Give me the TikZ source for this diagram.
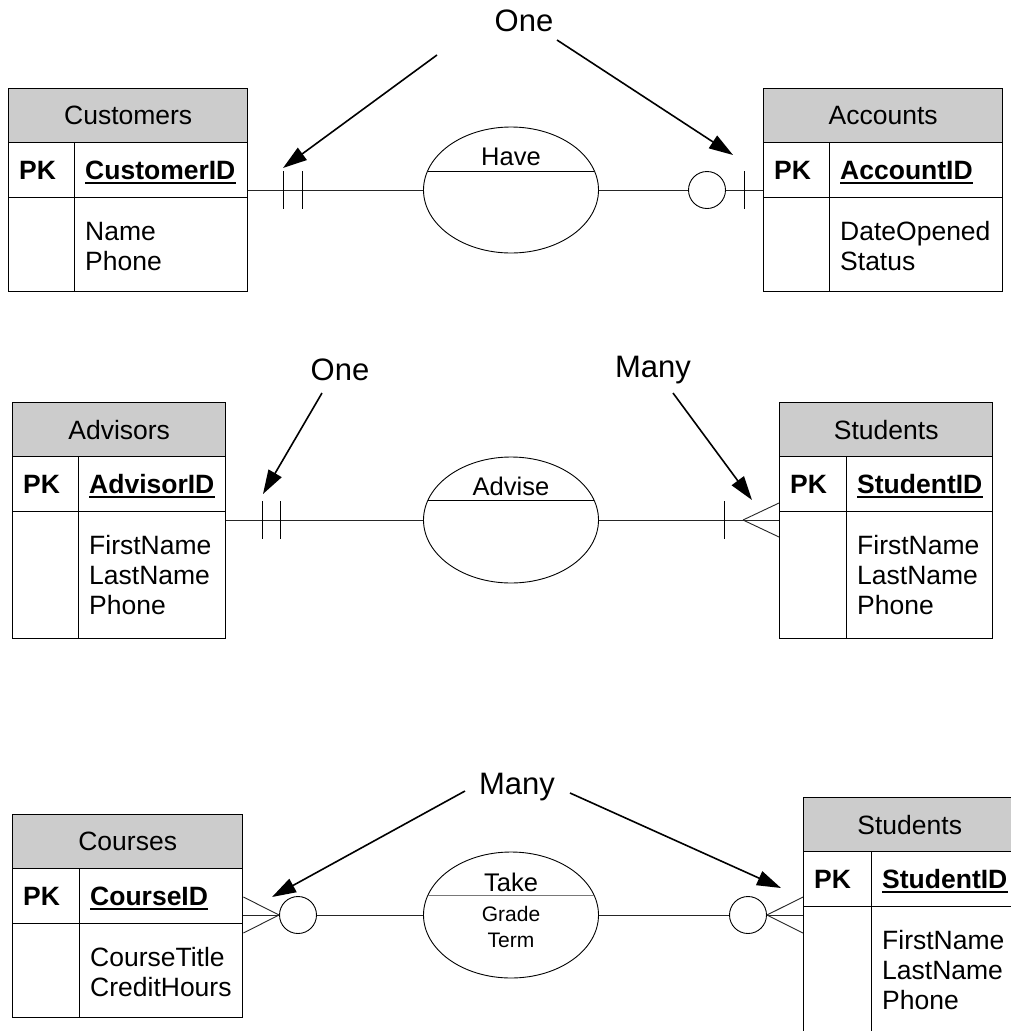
\documentclass[tikz,border=0pt]{standalone}
\usepackage{fontspec}
\setmainfont{Liberation Sans}
\usetikzlibrary{arrows.meta,shapes.geometric,calc}
\definecolor{hdrgray}{RGB}{204,204,204}
\definecolor{divgray}{RGB}{120,120,120}
\tikzset{
  cell/.style={draw=black, line width=1.4pt, inner sep=0pt, anchor=north west},
  tbltxt/.style={font=\fontsize{26.5}{30}\selectfont, inner sep=0pt},
  reltxt/.style={font=\fontsize{25.5}{30}\selectfont, inner sep=0pt},
  atttxt/.style={font=\fontsize{21}{26}\selectfont, inner sep=0pt},
  rel/.style={ellipse, draw, line width=0.9pt, minimum width=175pt, minimum height=126pt, inner sep=0pt},
  conn/.style={line width=0.9pt, draw=black!85},
  tickmark/.style={line width=0.9pt},
  optc/.style={circle, draw, line width=0.9pt, minimum size=37pt, inner sep=0pt},
  callout/.style={line width=1.6pt, -{Triangle[length=24pt,width=15pt]}},
  lbl/.style={font=\fontsize{31}{36}\selectfont, inner sep=0pt},
}
% #1 name #2 x1 #3 xd #4 x2 #5 top #6 bottom #7 title #8 key #9 attributes
\newcommand\ertable[9]{%
  \node[cell, fill=hdrgray, minimum width={#4pt-#2pt}, minimum height=54pt] (#1-h) at (#2,#5) {};
  \node[cell, minimum width={#3pt-#2pt}, minimum height=55pt] (#1-p) at (#2,#5+54) {};
  \node[cell, minimum width={#4pt-#3pt}, minimum height=55pt] (#1-k) at (#3,#5+54) {};
  \node[cell, minimum width={#3pt-#2pt}, minimum height={#6pt-#5pt-109pt}] (#1-a) at (#2,#5+109) {};
  \node[cell, minimum width={#4pt-#3pt}, minimum height={#6pt-#5pt-109pt}] (#1-b) at (#3,#5+109) {};
  \node[tbltxt] (#1-tt) at (#1-h.center) {#7};
  \path (#1-p.west) ++(11,9) node[tbltxt, anchor=base west] (#1-pk) {\bfseries PK};
  \path (#1-k.west) ++(11,9) node[tbltxt, anchor=base west] (#1-kt) {\bfseries #8};
  \draw[line width=1.8pt] ($(#1-kt.base west)+(0,3.5)$) -- ($(#1-kt.base east)+(0,3.5)$);
  \foreach \t [count=\i] in {#9} {
    \path (#1-b.north west) ++(11,{43+30*(\i-1)}) node[tbltxt, anchor=base west] (#1-at\i) {\t};
  }%
}
\begin{document}
\begin{tikzpicture}[x=1pt,y=-1pt]
\useasboundingbox (0,0) rectangle (1011,1031);
\fill[white] (0,0) rectangle (1011,1031);

% tables
\ertable{cust}{8}{74}{247}{88}{291}{Customers}{CustomerID}{Name,Phone}
\ertable{acct}{763}{829}{1002}{88}{291}{Accounts}{AccountID}{DateOpened,Status}
\ertable{adv}{12}{78}{225}{402}{638}{Advisors}{AdvisorID}{FirstName,LastName,Phone}
\ertable{stu}{779}{846}{992}{402}{638}{Students}{StudentID}{FirstName,LastName,Phone}
\ertable{crs}{12}{79}{242}{814}{1017}{Courses}{CourseID}{CourseTitle,CreditHours}
\ertable{stub}{803}{871}{1015}{797}{1045}{Students}{StudentID}{FirstName,LastName,Phone}

% ---------- Customers - Have - Accounts ----------
\node[rel] (have) at (511,190) {};
\draw[line width=0.9pt] ($(have.center)+(-83.4,-19)$) -- ($(have.center)+(83.4,-19)$);
\node[reltxt, anchor=base] (haveT) at ($(have.center)+(0,-25)$) {Have};
\node[optc] (o1) at (707,190) {};
\draw[conn] (cust-k.east |- have.west) -- (have.west);
\draw[conn] (have.east) -- (o1.west);
\draw[conn] (o1.east) -- (o1.east -| acct-p.west);
\draw[tickmark] (283,171) -- (283,209);
\draw[tickmark] (302,171) -- (302,209);
\draw[tickmark] (744,171) -- (744,209);

\node[lbl] (one1) at (524,21) {One};
\coordinate (a1s) at (437,55);
\coordinate (a1t) at (283,168);
\coordinate (a2s) at (557,40);
\coordinate (a2t) at (733,155);
\draw[callout] (a1s) -- (a1t);
\draw[callout] (a2s) -- (a2t);

% ---------- Advisors - Advise - Students ----------
\node[rel] (advise) at (511,520) {};
\draw[line width=0.9pt] ($(advise.center)+(-83,-20)$) -- ($(advise.center)+(83,-20)$);
\node[reltxt, anchor=base] (adviseT) at ($(advise.center)+(0,-25)$) {Advise};
\draw[conn] (adv-b.east |- advise.west) -- (advise.west);
\coordinate (cf1) at (743,520);
\draw[conn] (advise.east) -- (advise.east -| stu-a.west);
\draw[conn] (cf1) -- (stu-a.west |- 0,503);
\draw[conn] (cf1) -- (stu-a.west |- 0,537);
\draw[tickmark] (262,501) -- (262,539);
\draw[tickmark] (280,501) -- (280,539);
\draw[tickmark] (724,501) -- (724,539);

\node[lbl] (one2) at (340,370) {One};
\node[lbl] (many1) at (653,370) {Many};
\coordinate (b1s) at (322,393);
\coordinate (b1t) at (263,494);
\coordinate (b2s) at (673,393);
\coordinate (b2t) at (752,500);
\draw[callout] (b1s) -- (b1t);
\draw[callout] (b2s) -- (b2t);

% ---------- Courses - Take - Students ----------
\node[rel] (take) at (511,915) {};
\draw[line width=1.6pt, divgray] ($(take.center)+(-83.2,-19.5)$) -- ($(take.center)+(83.2,-19.5)$);
\node[reltxt, anchor=base] (takeT) at ($(take.center)+(0,-24)$) {Take};
\node[atttxt, anchor=base] (takeG) at ($(take.center)+(0,6)$) {Grade};
\node[atttxt, anchor=base] (takeR) at ($(take.center)+(0,32)$) {Term};
\node[optc] (o3) at (298,915) {};
\node[optc] (o4) at (748,915) {};
\draw[conn] (crs-k.east |- o3.west) -- (o3.west);
\draw[conn] (o3.west) -- (crs-k.east |- 0,897);
\draw[conn] (o3.west) -- (crs-k.east |- 0,933);
\draw[conn] (o3.east) -- (take.west);
\draw[conn] (take.east) -- (o4.west);
\draw[conn] (o4.east) -- (o4.east -| stub-a.west);
\draw[conn] (o4.east) -- (stub-a.west |- 0,897);
\draw[conn] (o4.east) -- (stub-a.west |- 0,933);

\node[lbl] (many2) at (517,787) {Many};
\coordinate (c1s) at (465,791);
\coordinate (c1t) at (272,897);
\coordinate (c2s) at (570,793);
\coordinate (c2t) at (781,888);
\draw[callout] (c1s) -- (c1t);
\draw[callout] (c2s) -- (c2t);
\end{tikzpicture}
\end{document}
